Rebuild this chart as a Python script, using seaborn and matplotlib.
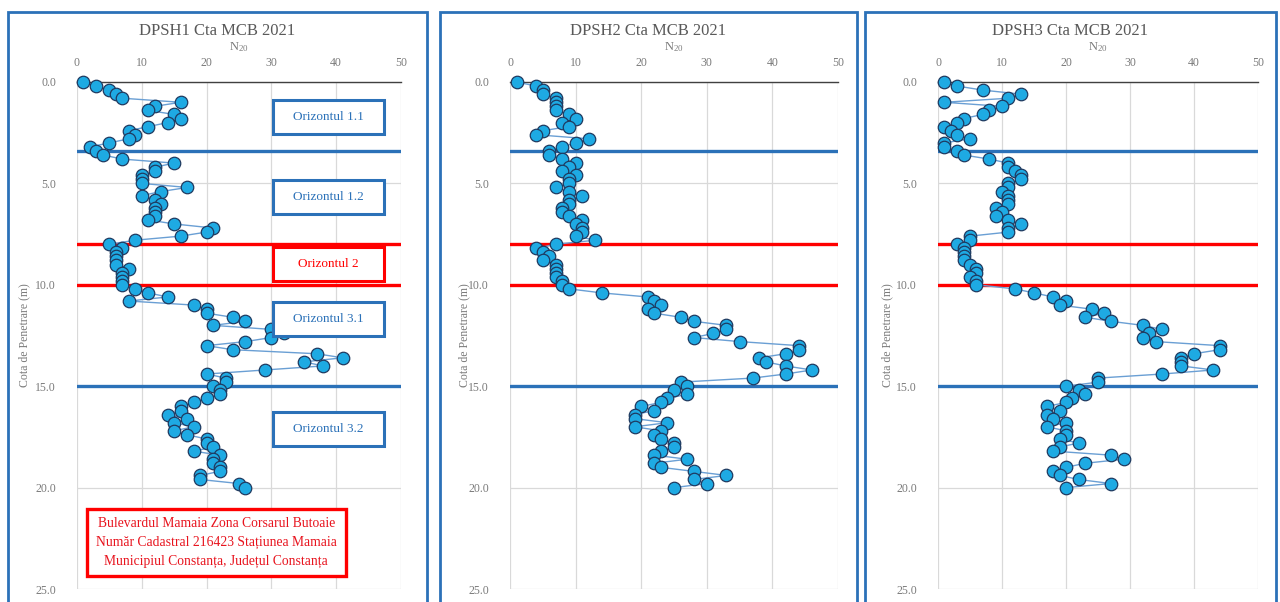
import numpy as np
import pandas as pd
import matplotlib
matplotlib.use("Agg")
import matplotlib.pyplot as plt
from matplotlib.patches import Rectangle
from matplotlib.ticker import FormatStrFormatter
import seaborn as sns

# ---- data -----------------------------------------------------------------
titles = ["DPSH1 Cta MCB 2021", "DPSH2 Cta MCB 2021", "DPSH3 Cta MCB 2021"]
depth_step = 0.2  # one N20 reading every 20 cm

n20_dpsh1 = [1, 3, 5, 6, 7, 16, 12, 11, 15, 16, 14, 11, 8, 9, 8, 5, 2, 3, 4, 7,
             15, 12, 12, 10, 10, 10, 17, 13, 10, 12, 13, 12, 12, 12, 11, 15, 21, 20, 16, 9,
             5, 7, 6, 6, 6, 6, 8, 7, 7, 7, 7, 9, 11, 14, 8, 18, 20, 20, 24, 26,
             21, 30, 32, 30, 26, 20, 24, 37, 41, 35, 38, 29, 20, 23, 23, 21, 22, 22, 20, 18,
             16, 16, 14, 17, 15, 18, 15, 17, 20, 20, 21, 18, 22, 21, 21, 22, 22, 19, 19, 25,
             26]
n20_dpsh2 = [1, 4, 5, 5, 7, 7, 7, 7, 9, 10, 8, 9, 5, 4, 12, 10, 8, 6, 6, 8,
             10, 9, 8, 10, 9, 9, 7, 9, 11, 9, 9, 8, 8, 9, 11, 10, 11, 11, 10, 13,
             7, 4, 5, 6, 5, 7, 7, 7, 7, 8, 8, 9, 14, 21, 22, 23, 21, 22, 26, 28,
             33, 33, 31, 28, 35, 44, 44, 42, 38, 39, 42, 46, 42, 37, 26, 27, 25, 27, 24, 23,
             20, 22, 19, 19, 24, 19, 23, 22, 23, 25, 25, 23, 22, 27, 22, 23, 28, 33, 28, 30,
             25]
n20_dpsh3 = [1, 3, 7, 13, 11, 1, 10, 8, 7, 4, 3, 1, 2, 3, 5, 1, 1, 3, 4, 8,
             11, 11, 12, 13, 13, 11, 11, 10, 11, 11, 11, 9, 10, 9, 11, 13, 11, 11, 5, 5,
             3, 4, 4, 4, 4, 5, 6, 6, 5, 6, 6, 12, 15, 18, 20, 19, 24, 26, 23, 27,
             32, 35, 33, 32, 34, 44, 44, 40, 38, 38, 38, 43, 35, 25, 25, 20, 22, 23, 21, 20,
             17, 19, 17, 18, 20, 17, 20, 20, 19, 22, 19, 18, 27, 29, 23, 20, 18, 19, 22, 27,
             20]
series = [n20_dpsh1, n20_dpsh2, n20_dpsh3]

x_ticks = [0, 10, 20, 30, 40, 50]
y_ticks = [0, 5, 10, 15, 20, 25]

blue_bounds = [3.4, 15.0]
red_bounds = [8.0, 10.0]

layer_names = ["Orizontul 1.1", "Orizontul 1.2", "Orizontul 2", "Orizontul 3.1", "Orizontul 3.2"]
layer_tops = [0.89, 4.83, 8.14, 10.85, 16.27]
layer_is_red = [False, False, True, False, False]

address_lines = ["Bulevardul Mamaia Zona Corsarul Butoaie",
                 "Număr Cadastral 216423 Stațiunea Mamaia",
                 "Municipiul Constanța, Județul Constanța"]

# ---- style ----------------------------------------------------------------
sns.set_theme(style="white")
plt.rcParams["font.family"] = ["Liberation Serif", "DejaVu Serif"]
plt.rcParams["mathtext.fontset"] = "stix"

BLUE = "#2B71B8"
RED = "#FF0000"
ADDR_RED = "#E8141E"
GREY_TXT = "#7A7A7A"
GRID = "#D9D9D9"
LINE = "#6A9FD4"
FACE = "#1EAAE3"
EDGE = "#1F3A60"

W, H = 1280, 602
fig = plt.figure(figsize=(W / 100, H / 100), dpi=100)

axes_px = [(77, 401), (510, 838), (938, 1258)]
frame_px = [(8, 427), (440, 857), (865, 1276)]
ylabel_px = [30, 470, 893]
top_px, bot_px = 82, 589

for i, (vals, title) in enumerate(zip(series, titles)):
    l, r = axes_px[i]
    ax = fig.add_axes([l / W, (H - bot_px) / H, (r - l) / W, (bot_px - top_px) / H])

    # outer chart frame
    fl, fr = frame_px[i]
    fig.patches.append(Rectangle((fl / W, -0.05), (fr - fl) / W, (H - 12) / H + 0.05,
                                 transform=fig.transFigure, fill=False,
                                 edgecolor=BLUE, linewidth=2.0, zorder=0))

    df = pd.DataFrame({"N20": vals,
                       "depth": np.round(np.arange(len(vals)) * depth_step, 1)})

    for d in blue_bounds:
        ax.axhline(d, color=BLUE, linewidth=2.4, zorder=2)
    for d in red_bounds:
        ax.axhline(d, color=RED, linewidth=2.4, zorder=2)

    sns.lineplot(data=df, x="N20", y="depth", sort=False, orient="y", estimator=None,
                 ax=ax, color=LINE, linewidth=1.0, marker="o", markersize=9.0,
                 markerfacecolor=FACE, markeredgecolor=EDGE, markeredgewidth=0.9,
                 clip_on=False, zorder=4)

    ax.set_xlim(0, 50)
    ax.set_ylim(25, 0)
    ax.set_xticks(x_ticks)
    ax.set_yticks(y_ticks)
    ax.yaxis.set_major_formatter(FormatStrFormatter("%.1f"))
    ax.xaxis.tick_top()
    ax.tick_params(axis="x", length=0, pad=9, labelsize=8.5, labelcolor=GREY_TXT)
    ax.tick_params(axis="y", length=0, pad=15, labelsize=8.5, labelcolor=GREY_TXT)
    ax.grid(True, color=GRID, linewidth=0.9)
    ax.set_axisbelow(True)
    for s in ["left", "right", "bottom"]:
        ax.spines[s].set_visible(False)
    ax.spines["top"].set_color("#404040")
    ax.spines["top"].set_linewidth(1.0)
    ax.spines["top"].set_zorder(3)

    ax.set_xlabel("")
    ax.set_ylabel("Cota de Penetrare (m)", fontsize=8.5, color=GREY_TXT)
    ax.yaxis.set_label_coords(-(l - ylabel_px[i]) / (r - l), 0.5)

    fig.text((fl + fr) / 2 / W, 1 - 31 / H, title, ha="center", va="center",
             fontsize=12, color="#595959")
    fig.text((l + r) / 2 / W, 1 - 47 / H, r"N$_{\mathregular{20}}$", ha="center",
             va="center", fontsize=9, color=GREY_TXT)

    if i == 0:
        # layer annotation boxes
        for name, top, red in zip(layer_names, layer_tops, layer_is_red):
            c = RED if red else BLUE
            ax.add_patch(Rectangle((30.2, top), 17.1, 1.68, facecolor="white",
                                   edgecolor=c, linewidth=2.2, zorder=5))
            ax.text(38.75, top + 0.84, name, ha="center", va="center",
                    fontsize=9.5, color=c, zorder=6)
        # site address
        ax.add_patch(Rectangle((1.55, 21.06), 39.9, 3.3, facecolor="white",
                               edgecolor=RED, linewidth=2.4, zorder=5))
        ax.text(21.5, 22.71, "\n".join(address_lines), ha="center", va="center",
                fontsize=9.8, color=ADDR_RED, linespacing=1.6, zorder=6)

fig.savefig("out.png", dpi=100, facecolor="white")
